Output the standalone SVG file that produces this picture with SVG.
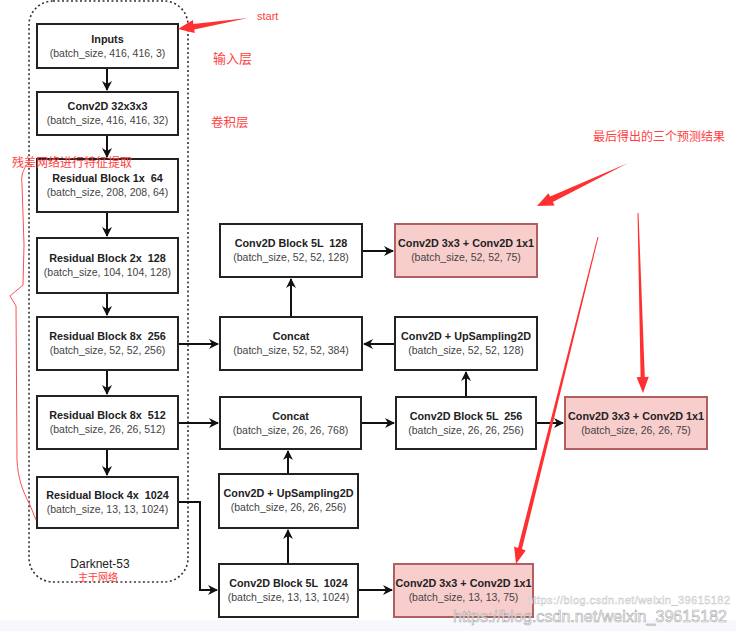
<svg xmlns="http://www.w3.org/2000/svg" width="736" height="631" viewBox="0 0 736 631">
<style>
.box{fill:#fff;stroke:#222;stroke-width:2}
.red{fill:#f8cecc;stroke:#b06060;stroke-width:2}
.t{font-family:"Liberation Sans",Arial,sans-serif;font-size:10.8px;font-weight:bold;fill:#222;text-anchor:middle;white-space:pre}
.s{font-family:"Liberation Sans",Arial,sans-serif;font-size:10.5px;fill:#444;text-anchor:middle}
.c{fill:none;stroke:#111;stroke-width:2}
.ann{font-family:"Liberation Sans","Noto Sans CJK SC",sans-serif;fill:#ff4040}
.ra{fill:#ff3030}
</style>
<defs>
<marker id="ah" viewBox="0 0 10 10" refX="9" refY="5" markerWidth="5" markerHeight="5" orient="auto" markerUnits="strokeWidth">
<path d="M0,0 L10,5 L0,10 L3,5 Z" fill="#111"/>
</marker>
</defs>
<rect x="0" y="0" width="736" height="631" fill="#fff"/>
<rect x="0" y="620" width="736" height="11" fill="#f6f8fb"/>

<g id="darknet">
<rect x="29" y="1" width="159" height="581" rx="24" fill="none" stroke="#333" stroke-width="1.6" stroke-dasharray="2,2.5"/>
<text x="100" y="568" font-family="Liberation Sans,Arial,sans-serif" font-size="12" fill="#222" text-anchor="middle">Darknet-53</text>
</g>

<g id="connectors">
<path class="c" d="M107,68 V90" marker-end="url(#ah)"/>
<path class="c" d="M107,135 V157" marker-end="url(#ah)"/>
<path class="c" d="M107,212 V236" marker-end="url(#ah)"/>
<path class="c" d="M107,293 V315" marker-end="url(#ah)"/>
<path class="c" d="M107,370 V394" marker-end="url(#ah)"/>
<path class="c" d="M107,449 V475" marker-end="url(#ah)"/>
<path class="c" d="M178,344 H218" marker-end="url(#ah)"/>
<path class="c" d="M178,423 H218" marker-end="url(#ah)"/>
<path class="c" d="M178,502 H200 V590 H217" stroke-width="1.6" marker-end="url(#ah)"/>
<path class="c" d="M288,564 V530" marker-end="url(#ah)"/>
<path class="c" d="M288,474 V451" marker-end="url(#ah)"/>
<path class="c" d="M361,423 H394" marker-end="url(#ah)"/>
<path class="c" d="M466,397 V372" marker-end="url(#ah)"/>
<path class="c" d="M395,344 H364" marker-end="url(#ah)"/>
<path class="c" d="M291,317 V279" marker-end="url(#ah)"/>
<path class="c" d="M362,251 H393" marker-end="url(#ah)"/>
<path class="c" d="M536,423 H563" marker-end="url(#ah)"/>
<path class="c" d="M358,590 H392" marker-end="url(#ah)"/>
</g>

<g id="inputs"><rect class="box" x="37" y="24" width="141" height="44"/>
<text class="t" x="107.5" y="43">Inputs</text><text class="s" x="107.5" y="57">(batch_size, 416, 416, 3)</text></g>
<g id="conv32"><rect class="box" x="37" y="92" width="141" height="43"/>
<text class="t" x="107.5" y="110">Conv2D 32x3x3</text><text class="s" x="107.5" y="124">(batch_size, 416, 416, 32)</text></g>
<g id="res1"><rect class="box" x="37" y="159" width="141" height="53"/>
<text class="t" x="107.5" y="182">Residual Block 1x  64</text><text class="s" x="107.5" y="196">(batch_size, 208, 208, 64)</text></g>
<g id="res2"><rect class="box" x="37" y="238" width="141" height="55"/>
<text class="t" x="107.5" y="262">Residual Block 2x  128</text><text class="s" x="107.5" y="276">(batch_size, 104, 104, 128)</text></g>
<g id="res8a"><rect class="box" x="37" y="317" width="141" height="53"/>
<text class="t" x="107.5" y="340">Residual Block 8x  256</text><text class="s" x="107.5" y="354">(batch_size, 52, 52, 256)</text></g>
<g id="res8b"><rect class="box" x="37" y="396" width="141" height="53"/>
<text class="t" x="107.5" y="419">Residual Block 8x  512</text><text class="s" x="107.5" y="433">(batch_size, 26, 26, 512)</text></g>
<g id="res4"><rect class="box" x="37" y="477" width="141" height="51"/>
<text class="t" x="107.5" y="499">Residual Block 4x  1024</text><text class="s" x="107.5" y="513">(batch_size, 13, 13, 1024)</text></g>

<g id="block128"><rect class="box" x="220" y="224" width="142" height="53"/>
<text class="t" x="291" y="247">Conv2D Block 5L  128</text><text class="s" x="291" y="261">(batch_size, 52, 52, 128)</text></g>
<g id="concat52"><rect class="box" x="220" y="317" width="142" height="53"/>
<text class="t" x="291" y="340">Concat</text><text class="s" x="291" y="354">(batch_size, 52, 52, 384)</text></g>
<g id="concat26"><rect class="box" x="220" y="397" width="141" height="52"/>
<text class="t" x="290.5" y="420">Concat</text><text class="s" x="290.5" y="434">(batch_size, 26, 26, 768)</text></g>
<g id="up26"><rect class="box" x="219" y="474" width="139" height="54"/>
<text class="t" x="288.5" y="497">Conv2D + UpSampling2D</text><text class="s" x="288.5" y="511">(batch_size, 26, 26, 256)</text></g>
<g id="block1024"><rect class="box" x="219" y="564" width="139" height="53"/>
<text class="t" x="288.5" y="587">Conv2D Block 5L  1024</text><text class="s" x="288.5" y="601">(batch_size, 13, 13, 1024)</text></g>

<g id="up52"><rect class="box" x="395" y="317" width="142" height="53"/>
<text class="t" x="466" y="340">Conv2D + UpSampling2D</text><text class="s" x="466" y="354">(batch_size, 52, 52, 128)</text></g>
<g id="block256"><rect class="box" x="396" y="397" width="140" height="52"/>
<text class="t" x="466" y="420">Conv2D Block 5L  256</text><text class="s" x="466" y="434">(batch_size, 26, 26, 256)</text></g>

<g id="out52"><rect class="red" x="395" y="224" width="142" height="53"/>
<text class="t" x="466" y="247">Conv2D 3x3 + Conv2D 1x1</text><text class="s" x="466" y="261">(batch_size, 52, 52, 75)</text></g>
<g id="out26"><rect class="red" x="565" y="397" width="142" height="52"/>
<text class="t" x="636" y="420">Conv2D 3x3 + Conv2D 1x1</text><text class="s" x="636" y="434">(batch_size, 26, 26, 75)</text></g>
<g id="out13"><rect class="red" x="394" y="564" width="139" height="53"/>
<text class="t" x="463.5" y="587">Conv2D 3x3 + Conv2D 1x1</text><text class="s" x="463.5" y="601">(batch_size, 13, 13, 75)</text></g>

<g id="annotations">
<text class="ann" x="257" y="20" font-size="11">start</text>
<text class="ann" x="213" y="63" font-size="13">输入层</text>
<text class="ann" x="211" y="127" font-size="12.5">卷积层</text>
<text class="ann" x="12" y="167" font-size="12">残差网络进行特征提取</text>
<text class="ann" x="593" y="141" font-size="12">最后得出的三个预测结果</text>
<text class="ann" x="98" y="581" font-size="10" text-anchor="middle">主干网络</text>
<path d="M26,166 C22,172 21,178 22,184 L24,245 L23,285 L10,296 L16,306 L17,460 C18,478 22,490 30,505 L36,520" fill="none" stroke="#ff5050" stroke-width="1"/>
<path class="ra" d="M248,18 L194.2,29.5 L194.7,33 L178,29 L192.9,20 L193.4,24 Z"/>
<path class="ra" d="M628,163 L552.8,202 L554.6,205.4 L537,206 L548.4,193.2 L550.2,196.6 Z"/>
<path class="ra" d="M637.5,213 L638.5,213 L644.8,377 L648.8,376.8 L643,393 L636.6,377.2 L640.6,377 Z"/>
<path class="ra" d="M597.5,237 L598.5,237 L522,549 L525.7,550.5 L516,564 L514.1,546.5 L518,548 Z"/>
<text x="527" y="604" font-family="Liberation Sans,Arial,sans-serif" font-size="11" fill="#fff" stroke="#c8c8c8" stroke-width="0.5" textLength="203">https://blog.csdn.net/weixin_39615182</text>
<text x="453" y="622" font-family="Liberation Sans,Arial,sans-serif" font-size="16" fill="#fff" fill-opacity="0.7" stroke="#aaa" stroke-width="0.6" textLength="274">https://blog.csdn.net/weixin_39615182</text>
</g>
</svg>
